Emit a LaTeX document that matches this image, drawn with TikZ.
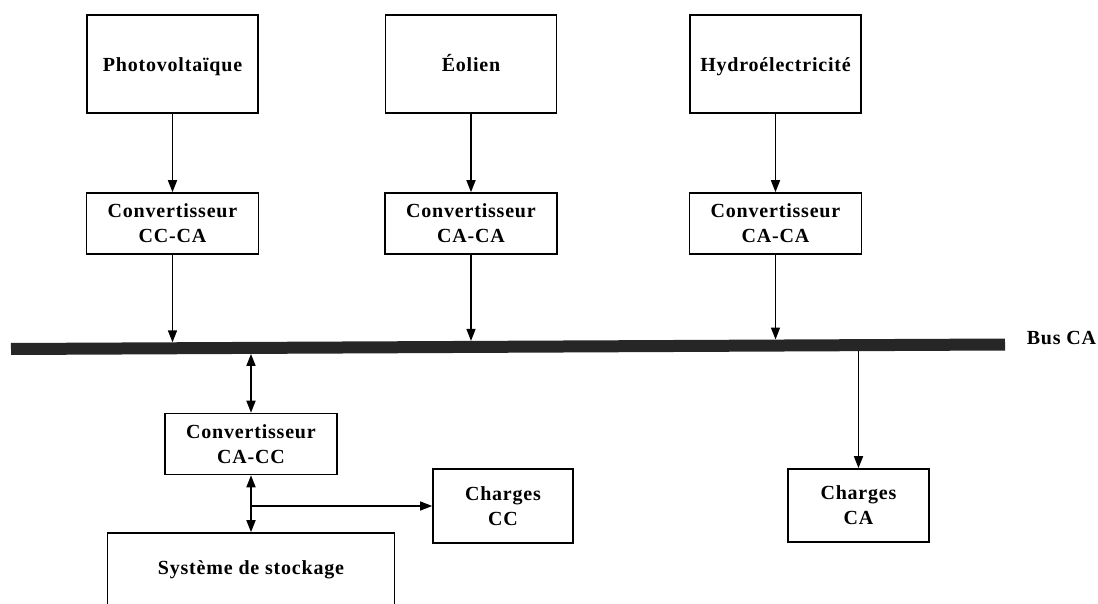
\documentclass[tikz,border=0pt]{standalone}
\usepackage{fontspec}
\setmainfont[LetterSpace=4]{Liberation Serif}
\usetikzlibrary{arrows.meta}
\begin{document}
\begin{tikzpicture}[x=1pt,y=-1pt,
  box/.style={draw, line width=1.6pt, inner sep=0pt, align=center,
    font=\fontsize{20}{25}\selectfont\bfseries},
  srcbox/.style={box, minimum width=171pt, minimum height=98pt,
    text height=18pt, text depth=2pt},
  convbox/.style={box, minimum width=172pt, minimum height=61pt},
  loadbox/.style={box, minimum width=141pt, minimum height=74pt},
  tip/.tip={Triangle[length=12pt,width=9pt]},
  flow/.style={line width=1.6pt, -tip},
  both/.style={line width=1.6pt, tip-tip}]
\useasboundingbox (0,0) rectangle (1098,604);
\clip (0,0) rectangle (1098,604);

% energy sources
\node[srcbox] (pv)  at (172.5,64) {Photovoltaïque};
\node[srcbox] (eol) at (471,64)   {Éolien};
\node[srcbox] (hyd) at (775.5,64) {Hydroélectricité};

% source-side converters
\node[convbox] (cv1) at (172.5,223.5) {Convertisseur\\CC-CA};
\node[convbox] (cv2) at (471,223.5)   {Convertisseur\\CA-CA};
\node[convbox] (cv3) at (775.5,223.5) {Convertisseur\\CA-CA};

% AC bus
\coordinate (busL) at (11,349);
\coordinate (busR) at (1005,344.5);
\draw[line width=12pt, black!85] (busL) -- (busR);
\node[font=\fontsize{20}{25}\selectfont\bfseries] (buslbl) at (1061.5,338) {Bus CA};

% attachment points on the bus edges
\coordinate (b1) at (172.5,342.3);
\coordinate (b2) at (471,340.9);
\coordinate (b3) at (775.5,339.5);
\coordinate (b4) at (251,353.9);
\coordinate (b5) at (858.5,351.2);

% storage side and loads
\node[convbox] (cvs) at (251,444) {Convertisseur\\CA-CC};
\node[loadbox, minimum width=140pt] (chcc) at (503,506) {Charges\\CC};
\node[loadbox, minimum height=73pt] (chca) at (858.5,505.5) {Charges\\CA};
\node[box, minimum width=287pt, minimum height=74pt,
  text height=14pt, text depth=5pt] (sto) at (251,570) {Système de stockage};
\coordinate (tap) at (251,506);

% connections
\draw[flow] (pv) -- (cv1);
\draw[flow] (eol) -- (cv2);
\draw[flow] (hyd) -- (cv3);
\draw[flow] (cv1) -- (b1);
\draw[flow] (cv2) -- (b2);
\draw[flow] (cv3) -- (b3);
\draw[both] (b4) -- (cvs);
\draw[both] (cvs) -- (sto);
\draw[flow, line width=1.2pt] (tap) -- (chcc);
\draw[flow] (b5) -- (chca);
\end{tikzpicture}
\end{document}
